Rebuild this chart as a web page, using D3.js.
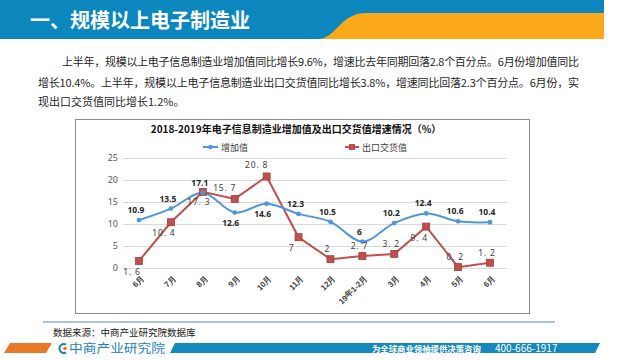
<!DOCTYPE html>
<html><head><meta charset="utf-8">
<script src="https://cdn.jsdelivr.net/npm/d3@7"></script>
<style>
html,body{margin:0;padding:0;background:#fff;}
svg{display:block;font-family:"Noto Sans CJK SC","Noto Sans",sans-serif;}
</style></head>
<body><svg id="c" width="640" height="360"></svg>
<script>
const categories = ["6月","7月","8月","9月","10月","11月","12月","19年1-2月","3月","4月","5月","6月"];
const addedValue = [10.9, 13.5, 17.1, 12.6, 14.6, 12.3, 10.5, 6, 10.2, 12.4, 10.6, 10.4];
const exportValue = [1.6, 10.4, 17.3, 15.7, 20.8, 7, 2, 2.7, 3.2, 9.4, 0.2, 1.2];
const yTicks = [0, 5, 10, 15, 20, 25];
const seriesNames = ["增加值", "出口交货值"];
const blueLabelPlace = ["t","t","t","b","b","t","t","t","t","t","t","t"];
const redLabelPlace = ["bl","bl","b","tl","tl","bl","t","t","t","bl","t","t"];
const paragraph = [
  "上半年，规模以上电子信息制造业增加值同比增长9.6%，增速比去年同期回落2.8个百分点。6月份增加值同比",
  "增长10.4%。上半年，规模以上电子信息制造业出口交货值同比增长3.8%，增速同比回落2.3个百分点。6月份，实",
  "现出口交货值同比增长1.2%。"
];

const svg = d3.select("#c");
const BLUE = "#4f97d8", RED = "#c0504d";

// header
svg.append("rect").attr("x",0).attr("y",0).attr("width",604).attr("height",39).attr("fill","#0b87be");
svg.append("path").attr("d","M318,39 C336,39 340,13 366,13 L604,13 L604,39 Z").attr("fill","#fba81a");
svg.append("text").attr("x",30).attr("y",28).attr("fill","#fff").attr("font-size",20).attr("font-weight","bold")
  .text("一、规模以上电子制造业");

// paragraph
const pl = [{x:62,y:66,len:517},{x:38,y:87,len:541},{x:38,y:106,len:null}];
paragraph.forEach((t,i)=>{
  const el = svg.append("text").attr("x",pl[i].x).attr("y",pl[i].y).attr("font-size",11).attr("fill","#262626").text(t);
  if(pl[i].len) el.attr("textLength",pl[i].len).attr("lengthAdjust","spacing");
});

// chart box
svg.append("rect").attr("x",75.5).attr("y",119.5).attr("width",454).attr("height",194).attr("fill","#fff").attr("stroke","#8c8c8c");

svg.append("text").attr("x",296).attr("y",133).attr("text-anchor","middle").attr("font-size",10).attr("font-weight","bold")
  .attr("fill","#111").text("2018-2019年电子信息制造业增加值及出口交货值增速情况（%）");

const x = d3.scalePoint().domain(d3.range(categories.length)).range([139,490]);
const y = d3.scaleLinear().domain([0,25]).range([268,158]);

// grid
svg.append("g").selectAll("line").data(yTicks).join("line")
  .attr("x1",123).attr("x2",507).attr("y1",d=>y(d)+0.5).attr("y2",d=>y(d)+0.5)
  .attr("stroke","#d9d9d9");
const yAxis = d3.axisLeft(y).tickValues(yTicks).tickSize(0).tickPadding(0);
const ya = svg.append("g").attr("transform","translate(118,0)").call(yAxis);
ya.select(".domain").remove();
ya.selectAll("text").attr("font-size",9).attr("fill","#595959").attr("font-family","Noto Sans, sans-serif");

// x labels
const xAxis = d3.axisBottom(x).tickFormat(i=>categories[i]).tickSize(0).tickPadding(0);
const xa = svg.append("g").attr("transform","translate(0,277)").call(xAxis);
xa.select(".domain").remove();
xa.selectAll("text").attr("font-size",8).attr("font-weight","bold").attr("fill","#404040")
  .attr("text-anchor","end").attr("dy","0.35em").attr("transform","translate(3,0) rotate(-45)");

// legend
const lg = svg.append("g");
lg.append("line").attr("x1",203).attr("x2",218).attr("y1",147).attr("y2",147).attr("stroke",BLUE).attr("stroke-width",2);
lg.append("circle").attr("cx",210.5).attr("cy",147).attr("r",2.3).attr("fill",BLUE);
lg.append("text").attr("x",221).attr("y",150.5).attr("font-size",9).attr("fill","#404040").text(seriesNames[0]);
lg.append("line").attr("x1",345).attr("x2",359).attr("y1",147).attr("y2",147).attr("stroke",RED).attr("stroke-width",2);
lg.append("rect").attr("x",349).attr("y",144).attr("width",6).attr("height",6).attr("fill",RED);
lg.append("text").attr("x",362).attr("y",150.5).attr("font-size",9).attr("fill","#404040").text(seriesNames[1]);

// lines
const idx = d3.range(categories.length);
svg.append("path").datum(idx).attr("fill","none").attr("stroke",RED).attr("stroke-width",2)
  .attr("d",d3.line().x(i=>x(i)).y(i=>y(exportValue[i])));
svg.append("path").datum(idx).attr("fill","none").attr("stroke",BLUE).attr("stroke-width",2)
  .attr("d",d3.line().curve(d3.curveCatmullRom.alpha(0.5)).x(i=>x(i)).y(i=>y(addedValue[i])));

svg.append("g").selectAll("rect").data(idx).join("rect")
  .attr("x",i=>x(i)-3.5).attr("y",i=>y(exportValue[i])-3.5).attr("width",7).attr("height",7)
  .attr("fill",RED).attr("stroke","#a33e3b").attr("stroke-width",0.8);
svg.append("g").selectAll("circle").data(idx).join("circle")
  .attr("cx",i=>x(i)).attr("cy",i=>y(addedValue[i])).attr("r",2.4).attr("fill",BLUE);

// labels
const off = {t:[-3,-7],b:[-4,13],bl:[-7,14],tl:[-10,-8]};
svg.append("g").selectAll("text").data(idx).join("text")
  .attr("x",i=>x(i)+off[blueLabelPlace[i]][0]).attr("y",i=>y(addedValue[i])+off[blueLabelPlace[i]][1])
  .attr("text-anchor","middle").attr("font-size",8.5).attr("font-weight","bold").attr("fill","#262626")
  .attr("font-family","Noto Sans, sans-serif")
  .text(i=>addedValue[i]);
svg.append("g").selectAll("text").data(idx).join("text")
  .attr("x",i=>x(i)+off[redLabelPlace[i]][0]).attr("y",i=>y(exportValue[i])+off[redLabelPlace[i]][1])
  .attr("text-anchor","middle").attr("font-size",8.5).attr("fill","#404040").attr("letter-spacing",0.8)
  .attr("font-family","Noto Sans, sans-serif")
  .text(i=>String(exportValue[i]).replace(".",". "));

// footer
svg.append("line").attr("x1",43).attr("x2",555).attr("y1",322).attr("y2",322).attr("stroke","#9aaccb").attr("stroke-width",1.5);
svg.append("text").attr("x",53).attr("y",336).attr("font-size",9.5).attr("fill","#222").text("数据来源：中商产业研究院数据库");
svg.append("path").attr("d","M4,353 L10,343 L52,343 L46,353 Z").attr("fill","#e8792a");
svg.append("path").attr("d","M170,353 L175,343 L600,343 L595,353 Z").attr("fill","#1589bd");
svg.append("path").attr("d","M66,344.5 A4.5,4.5 0 1,0 66,352.5").attr("fill","none").attr("stroke","#1d7fc1").attr("stroke-width",2);
svg.append("circle").attr("cx",65).attr("cy",348.5).attr("r",1.8).attr("fill","#e8792a");
svg.append("text").attr("x",69).attr("y",353).attr("font-size",12).attr("fill","#1d7fc1").attr("textLength",96).attr("lengthAdjust","spacingAndGlyphs").text("中商产业研究院");
svg.append("text").attr("x",372).attr("y",351.5).attr("font-size",8.4).attr("font-weight","bold").attr("fill","#fff").text("为全球商业领袖提供决策咨询");
svg.append("text").attr("x",495).attr("y",352).attr("font-size",10).attr("fill","#fff").text("400-666-1917");
</script></body></html>
